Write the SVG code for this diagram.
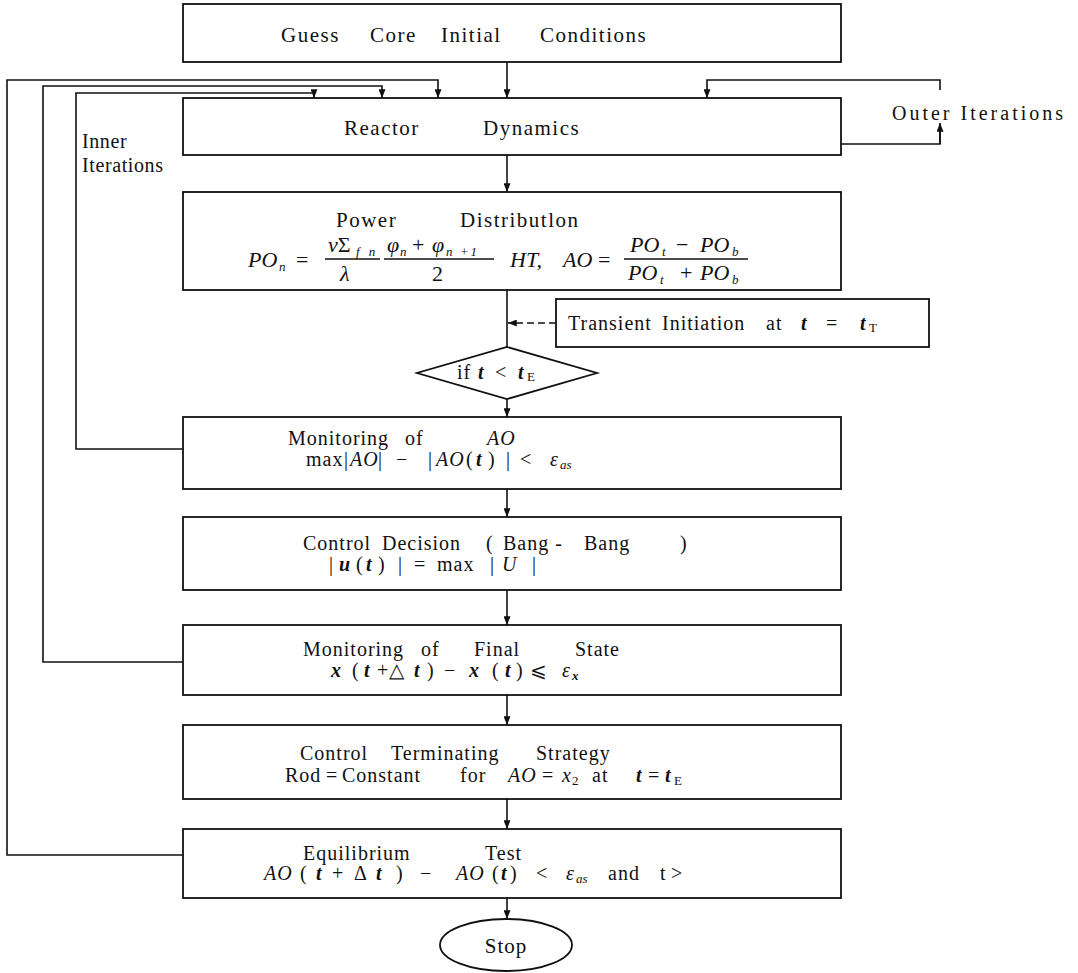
<svg xmlns="http://www.w3.org/2000/svg" width="1078" height="973" viewBox="0 0 1078 973">
<defs>
<marker id="ah" viewBox="0 0 10 8" refX="10" refY="4" markerWidth="9" markerHeight="7" markerUnits="userSpaceOnUse" orient="auto">
<path d="M0,0 L10,4 L0,8 z" fill="#111"/>
</marker>
</defs>
<style>
.box{fill:#fff;stroke:#111;stroke-width:1.8}
.ln{fill:none;stroke:#111;stroke-width:1.6}
.ar{fill:none;stroke:#111;stroke-width:1.6;marker-end:url(#ah)}
.t{font-family:"Liberation Serif","Times New Roman",serif;font-size:20px;fill:#111;letter-spacing:1px}
.m{font-family:"Liberation Serif","Times New Roman",serif;font-size:22px;fill:#111;font-style:italic}
.i{font-style:italic}
.b{font-style:italic;font-weight:bold}
.s{font-size:13px;letter-spacing:0}
</style>
<rect x="0" y="0" width="1078" height="973" fill="#fff"/>

<g id="connectors">
<line class="ar" x1="507" y1="62" x2="507" y2="98"/>
<line class="ar" x1="507" y1="155" x2="507" y2="192"/>
<line class="ln" x1="507" y1="290" x2="507" y2="347"/>
<line class="ar" x1="556" y1="323" x2="508" y2="323" stroke-dasharray="7,4"/>
<line class="ar" x1="507" y1="399" x2="507" y2="417"/>
<line class="ar" x1="507" y1="489" x2="507" y2="517"/>
<line class="ar" x1="507" y1="590" x2="507" y2="625"/>
<line class="ar" x1="507" y1="695" x2="507" y2="725"/>
<line class="ar" x1="507" y1="799" x2="507" y2="829"/>
<line class="ar" x1="507" y1="898" x2="507" y2="919"/>
<polyline class="ar" points="183,855 7,855 7,80 438,80 438,98"/>
<polyline class="ar" points="183,662 43,662 43,86 382,86 382,98"/>
<polyline class="ar" points="183,449 76,449 76,93 314,93 314,98"/>
<polyline class="ln" points="841,144 940,144 940,124"/>
<line class="ar" x1="940" y1="144" x2="940" y2="123"/>
<polyline class="ar" points="940,90 940,80 707,80 707,98"/>
</g>

<g id="guess">
<rect class="box" x="183" y="4" width="658" height="58"/>
<text class="t" y="42" style="font-size:21px;letter-spacing:1.5px"><tspan x="281">Guess</tspan><tspan x="370">Core</tspan><tspan x="441">Initial</tspan><tspan x="540">Conditions</tspan></text>
</g>

<g id="reactor">
<rect class="box" x="183" y="98" width="658" height="57"/>
<text class="t" y="135" style="font-size:21px;letter-spacing:1.5px"><tspan x="344">Reactor</tspan><tspan x="483">Dynamics</tspan></text>
</g>

<g id="outer-label">
<text class="t" x="892" y="120" textLength="172" lengthAdjust="spacing" style="font-size:20px">Outer Iterations</text>
</g>
<g id="inner-label">
<text class="t" x="82" y="148" style="font-size:20px;letter-spacing:0.6px">Inner</text>
<text class="t" x="82" y="172" style="font-size:20px;letter-spacing:0.6px">Iterations</text>
</g>

<g id="power">
<rect class="box" x="183" y="192" width="658" height="98"/>
<text class="t" y="227" style="font-size:21px;letter-spacing:1.5px"><tspan x="336">Power</tspan><tspan x="460">Distributlon</tspan></text>
<text class="m" x="248" y="267">PO</text>
<text class="m s" x="279" y="271">n</text>
<text class="t" x="296" y="267" style="font-size:22px">=</text>
<text class="m" x="328" y="252">ν<tspan style="font-style:normal">Σ</tspan></text>
<text class="m s" x="356" y="256" style="letter-spacing:3px">f n</text>
<line class="ln" x1="325" y1="259" x2="380" y2="259" stroke-width="1.2"/>
<text class="m" x="340" y="281">λ</text>
<text class="m" x="387" y="252">φ</text>
<text class="m s" x="400" y="256">n</text>
<text class="t" x="412" y="252" style="font-size:22px">+</text>
<text class="m" x="432" y="252">φ</text>
<text class="m s" x="446" y="256" style="letter-spacing:2px">n +1</text>
<line class="ln" x1="384" y1="259" x2="494" y2="259" stroke-width="1.2"/>
<text class="t" x="432" y="281" style="font-size:22px">2</text>
<text class="m" x="510" y="267">HT,</text>
<text class="m" x="563" y="267">AO</text>
<text class="t" x="598" y="267" style="font-size:22px">=</text>
<text class="m" x="630" y="252">PO</text>
<text class="m s" x="662" y="256">t</text>
<text class="t" x="676" y="252" style="font-size:22px">−</text>
<text class="m" x="700" y="252">PO</text>
<text class="m s" x="732" y="256">b</text>
<line class="ln" x1="624" y1="259" x2="748" y2="259" stroke-width="1.2"/>
<text class="m" x="628" y="280">PO</text>
<text class="m s" x="660" y="284">t</text>
<text class="t" x="680" y="280" style="font-size:22px">+</text>
<text class="m" x="700" y="280">PO</text>
<text class="m s" x="732" y="284">b</text>
</g>

<g id="transient">
<rect class="box" x="556" y="299" width="373" height="48"/>
<text class="t" y="330"><tspan x="568">Transient</tspan><tspan x="662">Initiation</tspan><tspan x="766">at</tspan><tspan x="801" class="b">t</tspan><tspan x="826">=</tspan><tspan x="860" class="b">t</tspan><tspan x="869" class="s" dy="2">T</tspan></text>
</g>

<g id="decision">
<polygon class="box" points="507,347 597,373 507,399 417,373"/>
<text class="t" y="379"><tspan x="457">if</tspan><tspan x="478" class="b">t</tspan><tspan x="495">&lt;</tspan><tspan x="518" class="b">t</tspan><tspan x="527" class="s" dy="2">E</tspan></text>
</g>

<g id="monitor-ao">
<rect class="box" x="183" y="417" width="658" height="72"/>
<text class="t" y="445"><tspan x="288">Monitoring</tspan><tspan x="405">of</tspan><tspan x="487" class="i">AO</tspan></text>
<text class="t" y="466"><tspan x="306">max</tspan><tspan x="344">|</tspan><tspan x="350" class="i">AO</tspan><tspan x="378">|</tspan><tspan x="396">−</tspan><tspan x="428">|</tspan><tspan x="436" class="i">AO</tspan><tspan x="466">(</tspan><tspan x="476" class="b">t</tspan><tspan x="488">)</tspan><tspan x="506">|</tspan><tspan x="520">&lt;</tspan><tspan x="550" class="i">ε</tspan><tspan x="560" class="i s" dy="3">as</tspan></text>
</g>

<g id="control">
<rect class="box" x="183" y="517" width="658" height="73"/>
<text class="t" y="550"><tspan x="303">Control</tspan><tspan x="382">Decision</tspan><tspan x="486">(</tspan><tspan x="503">Bang -</tspan><tspan x="584">Bang</tspan><tspan x="680">)</tspan></text>
<text class="t" y="571"><tspan x="329">|</tspan><tspan x="339" class="b">u</tspan><tspan x="356">(</tspan><tspan x="366" class="b">t</tspan><tspan x="378">)</tspan><tspan x="398">|</tspan><tspan x="414">=</tspan><tspan x="437">max</tspan><tspan x="490">|</tspan><tspan x="502" class="i">U</tspan><tspan x="532">|</tspan></text>
</g>

<g id="final-state">
<rect class="box" x="183" y="625" width="658" height="70"/>
<text class="t" y="656"><tspan x="303">Monitoring</tspan><tspan x="421">of</tspan><tspan x="474">Final</tspan><tspan x="575">State</tspan></text>
<text class="t" y="677"><tspan x="331" class="b">x</tspan><tspan x="352">(</tspan><tspan x="364" class="b">t</tspan><tspan x="377">+△</tspan><tspan x="414" class="b">t</tspan><tspan x="427">)</tspan><tspan x="444">−</tspan><tspan x="469" class="b">x</tspan><tspan x="492">(</tspan><tspan x="505" class="b">t</tspan><tspan x="516">)</tspan><tspan x="530">⩽</tspan><tspan x="562" class="i">ε</tspan><tspan x="572" class="b s" dy="3">x</tspan></text>
</g>

<g id="terminating">
<rect class="box" x="183" y="725" width="658" height="74"/>
<text class="t" y="760"><tspan x="300">Control</tspan><tspan x="391">Terminating</tspan><tspan x="536">Strategy</tspan></text>
<text class="t" y="782"><tspan x="285">Rod</tspan><tspan x="326">=</tspan><tspan x="342">Constant</tspan><tspan x="460">for</tspan><tspan x="508" class="i">AO</tspan><tspan x="542">=</tspan><tspan x="562" class="i">x</tspan><tspan x="572" class="s" dy="3">2</tspan><tspan x="592" dy="-3">at</tspan><tspan x="636" class="b">t</tspan><tspan x="648">=</tspan><tspan x="665" class="b">t</tspan><tspan x="674" class="s" dy="3">E</tspan></text>
</g>

<g id="equilibrium">
<rect class="box" x="183" y="829" width="658" height="69"/>
<text class="t" y="860"><tspan x="303">Equilibrium</tspan><tspan x="485">Test</tspan></text>
<text class="t" y="880"><tspan x="264" class="i">AO</tspan><tspan x="300">(</tspan><tspan x="316" class="b">t</tspan><tspan x="332">+</tspan><tspan x="354">Δ</tspan><tspan x="376" class="b">t</tspan><tspan x="396">)</tspan><tspan x="420">−</tspan><tspan x="456" class="i">AO</tspan><tspan x="492">(</tspan><tspan x="501" class="b">t</tspan><tspan x="510">)</tspan><tspan x="536">&lt;</tspan><tspan x="566" class="i">ε</tspan><tspan x="576" class="i s" dy="3">as</tspan><tspan x="608" dy="-3">and</tspan><tspan x="660">t</tspan><tspan x="671">&gt;</tspan></text>
</g>

<g id="stop">
<ellipse class="box" cx="506" cy="945" rx="66" ry="26"/>
<text class="t" x="506" y="953" text-anchor="middle" style="font-size:21px">Stop</text>
</g>
</svg>
